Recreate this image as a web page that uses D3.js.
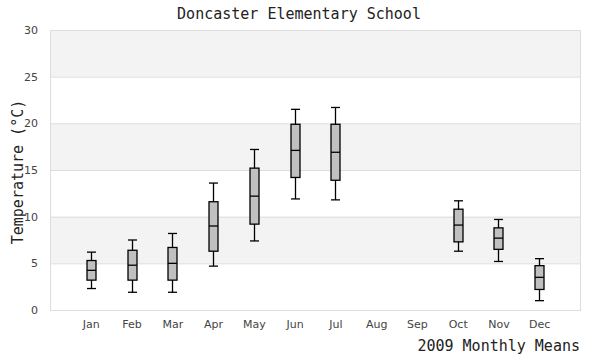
<!DOCTYPE html>
<html><head><meta charset="utf-8">
<script src="https://cdn.jsdelivr.net/npm/d3@7"></script>
<style>body{margin:0;background:#fff}</style>
</head><body><svg id="c" width="600" height="360"></svg>
<script>
const months = ["Jan","Feb","Mar","Apr","May","Jun","Jul","Aug","Sep","Oct","Nov","Dec"];
const lowWhisker = [2.3, 1.9, 1.9, 4.7, 7.4, 11.9, 11.8, null, null, 6.3, 5.2, 1.0];
const q1 =         [3.2, 3.2, 3.2, 6.3, 9.2, 14.2, 13.9, null, null, 7.3, 6.5, 2.2];
const median =     [4.25, 4.8, 5.0, 9.0, 12.2, 17.1, 16.9, null, null, 9.1, 7.7, 3.5];
const q3 =         [5.3, 6.4, 6.7, 11.6, 15.2, 19.9, 19.9, null, null, 10.8, 8.8, 4.75];
const highWhisker =[6.2, 7.5, 8.2, 13.6, 17.2, 21.5, 21.7, null, null, 11.7, 9.7, 5.5];
const yTicks = [0, 5, 10, 15, 20, 25, 30];

const svg = d3.select("#c");
const L = 50, R = 580, T = 30, B = 310;
const x = d3.scalePoint().domain(months).range([L, R]).padding(1);
const y = d3.scaleLinear().domain([0, 30]).range([B, T]);

// bands
for (let i = 0; i < yTicks.length - 1; i++) {
  const a = yTicks[i], b = yTicks[i+1];
  svg.append("rect").attr("x", L).attr("width", R - L)
    .attr("y", y(b)).attr("height", y(a) - y(b))
    .attr("fill", i % 2 === 1 ? "#f3f3f3" : "#ffffff");
}
// gridlines
svg.append("g").selectAll("line").data(yTicks).join("line")
  .attr("x1", L).attr("x2", R).attr("y1", d => y(d) + 0.5).attr("y2", d => y(d) + 0.5)
  .attr("stroke", "#dddddd");
svg.append("rect").attr("x", L + 0.5).attr("y", T + 0.5).attr("width", R - L).attr("height", B - T)
  .attr("fill", "none").attr("stroke", "#dddddd");

// axes
const yAxis = d3.axisLeft(y).tickValues(yTicks).tickSize(0).tickPadding(12);
const gy = svg.append("g").attr("transform", `translate(${L},0)`).call(yAxis);
gy.select(".domain").remove();
gy.selectAll("text").attr("fill", "#444").style("font-family", "DejaVu Sans, sans-serif").style("font-size", "11px");

const xAxis = d3.axisBottom(x).tickSize(0).tickPadding(10);
const gx = svg.append("g").attr("transform", `translate(0,${B})`).call(xAxis);
gx.select(".domain").remove();
gx.selectAll("text").attr("fill", "#444").style("font-family", "DejaVu Sans, sans-serif").style("font-size", "11px");

// boxes
const data = months.map((m, i) => ({m, lo: lowWhisker[i], q1: q1[i], med: median[i], q3: q3[i], hi: highWhisker[i]}))
  .filter(d => d.med != null);
const bw = 9, cw = 9;
const g = svg.append("g").attr("stroke", "#000").attr("stroke-width", 1.3);
data.forEach(d => {
  const cx = Math.round(x(d.m)) + 0.5;
  g.append("line").attr("x1", cx).attr("x2", cx).attr("y1", y(d.hi)).attr("y2", y(d.lo));
  g.append("line").attr("x1", cx - cw/2).attr("x2", cx + cw/2).attr("y1", y(d.hi)).attr("y2", y(d.hi));
  g.append("line").attr("x1", cx - cw/2).attr("x2", cx + cw/2).attr("y1", y(d.lo)).attr("y2", y(d.lo));
  g.append("rect").attr("x", cx - bw/2).attr("width", bw).attr("y", y(d.q3)).attr("height", y(d.q1) - y(d.q3))
    .attr("fill", "#c0c0c0");
  g.append("line").attr("x1", cx - bw/2).attr("x2", cx + bw/2).attr("y1", y(d.med)).attr("y2", y(d.med));
});

// titles
svg.append("text").attr("x", 299).attr("y", 19).attr("text-anchor", "middle")
  .style("font-family", "DejaVu Sans Mono, monospace").style("font-size", "15px").attr("fill", "#222")
  .text("Doncaster Elementary School");
svg.append("text").attr("transform", `translate(23,${(T+B)/2 + 2}) rotate(-90)`).attr("text-anchor", "middle")
  .style("font-family", "DejaVu Sans Mono, monospace").style("font-size", "15px").attr("fill", "#222")
  .text("Temperature (°C)");
svg.append("text").attr("x", 580).attr("y", 351).attr("text-anchor", "end")
  .style("font-family", "DejaVu Sans Mono, monospace").style("font-size", "15px").attr("fill", "#222")
  .text("2009 Monthly Means");
</script></body></html>
